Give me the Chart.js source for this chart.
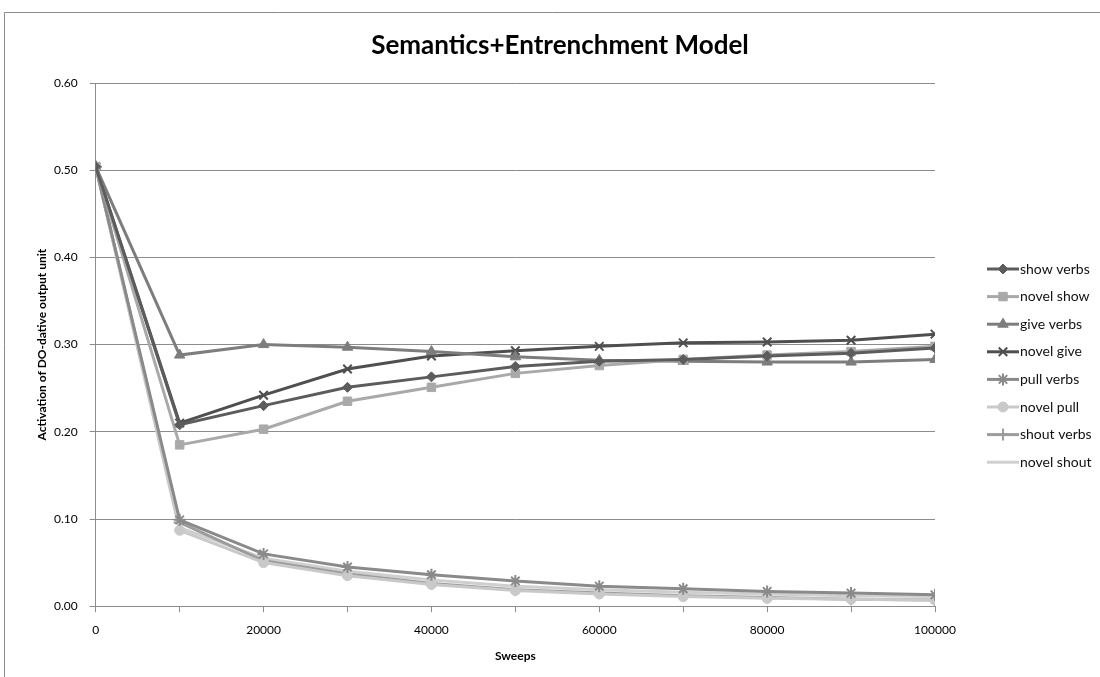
<!DOCTYPE html>
<html>
<head>
<meta charset="utf-8">
<script src="https://cdn.jsdelivr.net/npm/chart.js@4.4.0/dist/chart.umd.min.js"></script>
<style>
  html, body { margin: 0; padding: 0; background: #fff; }
  #wrap { position: relative; width: 1100px; height: 677px; }
</style>
</head>
<body>
<div id="wrap"><canvas id="myChart"></canvas></div>
<script>
// sweeps on the x axis
var sweeps = [0, 10000, 20000, 30000, 40000, 50000, 60000, 70000, 80000, 90000, 100000];

// activation values
var showVerbs  = [0.504, 0.208, 0.230, 0.251, 0.263, 0.275, 0.281, 0.283, 0.287, 0.290, 0.296];
var novelShow  = [0.504, 0.185, 0.203, 0.235, 0.251, 0.267, 0.276, 0.283, 0.288, 0.292, 0.298];
var giveVerbs  = [0.504, 0.288, 0.300, 0.297, 0.292, 0.286, 0.282, 0.281, 0.280, 0.280, 0.283];
var novelGive  = [0.504, 0.210, 0.242, 0.272, 0.287, 0.293, 0.298, 0.302, 0.303, 0.305, 0.312];
var pullVerbs  = [0.504, 0.099, 0.060, 0.045, 0.036, 0.029, 0.023, 0.020, 0.017, 0.015, 0.013];
var novelPull  = [0.504, 0.087, 0.050, 0.035, 0.025, 0.018, 0.014, 0.011, 0.009, 0.008, 0.007];
var shoutVerbs = [0.504, 0.096, 0.052, 0.037, 0.026, 0.019, 0.015, 0.012, 0.010, 0.008, 0.007];
var novelShout = [0.504, 0.090, 0.055, 0.040, 0.030, 0.023, 0.019, 0.016, 0.014, 0.012, 0.011];

var seriesNames = ['show verbs', 'novel show', 'give verbs', 'novel give', 'pull verbs', 'novel pull', 'shout verbs', 'novel shout'];
var seriesData = [showVerbs, novelShow, giveVerbs, novelGive, pullVerbs, novelPull, shoutVerbs, novelShout];
var yTicks = [0, 0.1, 0.2, 0.3, 0.4, 0.5, 0.6];

// look of each series (greyscale like the original)
var colors = ['#5c5c5c', '#a9a9a9', '#7d7d7d', '#4f4f4f', '#8a8a8a', '#c9c9c9', '#9c9c9c', '#cfcfcf'];
var markers = ['rectRot', 'rect', 'triangle', 'crossRot', 'star', 'circle', 'cross', false];
var markerSize = [5, 6, 6, 6, 6, 5, 6, 0];

var FONT = 'Lato, "Open Sans", sans-serif';

var datasets = [];
for (var i = 0; i < seriesNames.length; i++) {
  var pts = [];
  for (var j = 0; j < sweeps.length; j++) {
    pts.push({ x: sweeps[j], y: seriesData[i][j] });
  }
  datasets.push({
    label: seriesNames[i],
    data: pts,
    borderColor: colors[i],
    backgroundColor: colors[i],
    borderWidth: 3,
    pointStyle: markers[i],
    pointRadius: markerSize[i],
    pointBorderWidth: (markers[i] == 'crossRot' || markers[i] == 'star' || markers[i] == 'cross') ? 2 : 1,
    pointBorderColor: colors[i],
    pointBackgroundColor: colors[i],
    tension: 0
  });
}

// frame, titles and hand drawn legend on the right
var extras = {
  id: 'extras',
  beforeDraw: function (chart) {
    var ctx = chart.ctx;
    var area = chart.chartArea;
    ctx.save();
    ctx.fillStyle = '#fff';
    ctx.fillRect(0, 0, chart.width, chart.height);
    ctx.strokeStyle = '#8c8c8c';
    ctx.lineWidth = 1;
    ctx.beginPath();
    ctx.moveTo(4.5, chart.height);
    ctx.lineTo(4.5, 12.5);
    ctx.lineTo(chart.width, 12.5);
    ctx.stroke();
    // main title, centred on the page rather than the plot
    ctx.fillStyle = '#000';
    ctx.font = 'bold 26px ' + FONT;
    ctx.textAlign = 'center';
    ctx.textBaseline = 'middle';
    ctx.fillText('Semantics+Entrenchment Model', 560, 46);
    // y axis title
    ctx.font = 'bold 12px ' + FONT;
    ctx.translate(42, (area.top + area.bottom) / 2);
    ctx.rotate(-Math.PI / 2);
    ctx.fillText('Activation of DO-dative output unit', 0, 0);
    ctx.restore();
  },
  afterDraw: function (chart) {
    var ctx = chart.ctx;
    var x0 = 987, y0 = 269, gap = 27.6;
    ctx.save();
    ctx.font = '14px ' + FONT;
    ctx.textBaseline = 'middle';
    chart.data.datasets.forEach(function (ds, k) {
      var y = y0 + k * gap;
      ctx.strokeStyle = ds.borderColor;
      ctx.lineWidth = 3;
      ctx.beginPath();
      ctx.moveTo(x0, y);
      ctx.lineTo(x0 + 32, y);
      ctx.stroke();
      if (ds.pointStyle) {
        ctx.fillStyle = ds.backgroundColor;
        ctx.strokeStyle = ds.borderColor;
        ctx.lineWidth = ds.pointBorderWidth;
        Chart.helpers.drawPoint(ctx, { pointStyle: ds.pointStyle, radius: ds.pointRadius, borderWidth: ds.pointBorderWidth, rotation: 0 }, x0 + 16, y);
      }
      ctx.fillStyle = '#111';
      ctx.fillText(ds.label, x0 + 33, y);
    });
    ctx.restore();
  }
};

var canvas = document.getElementById('myChart');
var chart = new Chart(canvas, {
  type: 'line',
  data: { datasets: datasets },
  plugins: [extras],
  options: {
    responsive: true,
    maintainAspectRatio: false,
    animation: false,
    layout: { padding: { left: 42, right: 165, top: 83, bottom: 10 } },
    plugins: {
      legend: { display: false },
      tooltip: { enabled: false },
      title: { display: false }
    },
    scales: {
      x: {
        type: 'linear',
        min: 0,
        max: 100000,
        afterBuildTicks: function (axis) {
          axis.ticks = sweeps.map(function (v) { return { value: v }; });
        },
        ticks: {
          autoSkip: false,
          maxRotation: 0,
          color: '#000',
          padding: 11,
          font: { family: FONT, size: 12 },
          callback: function (v) { return (v % 20000 === 0) ? String(v) : ''; }
        },
        grid: { drawOnChartArea: false, tickLength: 6, color: '#8c8c8c' },
        border: { color: '#8c8c8c' },
        title: {
          display: true,
          text: 'Sweeps',
          color: '#000',
          font: { family: FONT, size: 12, weight: 'bold' },
          padding: { top: 0 }
        }
      },
      y: {
        min: 0,
        max: 0.6,
        afterBuildTicks: function (axis) {
          axis.ticks = yTicks.map(function (v) { return { value: v }; });
        },
        ticks: {
          color: '#000',
          font: { family: FONT, size: 12 },
          padding: 12,
          callback: function (v) { return v.toFixed(2); }
        },
        grid: { color: '#8c8c8c', tickLength: 6 },
        border: { color: '#8c8c8c' },
        title: { display: false }
      }
    }
  }
});
</script>
</body>
</html>
